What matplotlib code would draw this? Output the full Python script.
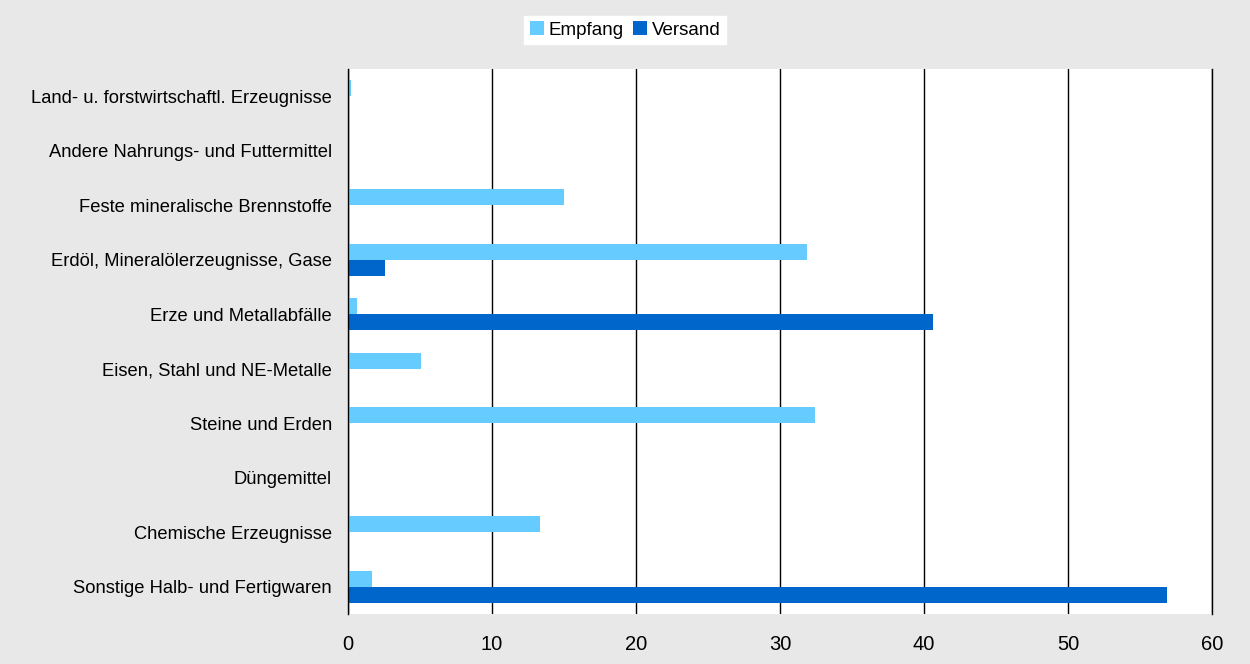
import matplotlib
matplotlib.use("Agg")
import matplotlib.pyplot as plt
import numpy as np

categories = [
    "Land- u. forstwirtschaftl. Erzeugnisse",
    "Andere Nahrungs- und Futtermittel",
    "Feste mineralische Brennstoffe",
    "Erdöl, Mineralölerzeugnisse, Gase",
    "Erze und Metallabfälle",
    "Eisen, Stahl und NE-Metalle",
    "Steine und Erden",
    "Düngemittel",
    "Chemische Erzeugnisse",
    "Sonstige Halb- und Fertigwaren",
]
empfang = [0.2, 0.0, 15.0, 31.9, 0.6, 5.1, 32.4, 0.0, 13.3, 1.7]
versand = [0.0, 0.0, 0.0, 2.6, 40.6, 0.0, 0.0, 0.0, 0.0, 56.9]
xticks = [0, 10, 20, 30, 40, 50, 60]

plt.rcParams['font.family'] = ['Liberation Sans', 'DejaVu Sans']

fig = plt.figure(figsize=(12.5, 6.64), dpi=100, facecolor='#E8E8E8')
ax = fig.add_axes([348/1250, 1-614/664, (1212-348)/1250, (614-69)/664])
ax.set_facecolor('white')

y = np.arange(len(categories))
h = 0.295
ax.barh(y - h/2, empfang, height=h, color='#66CCFF', label='Empfang', zorder=3)
ax.barh(y + h/2, versand, height=h, color='#0066CC', label='Versand', zorder=3)

ax.set_ylim(len(categories) - 0.5, -0.5)
ax.set_xlim(0, 60)
ax.set_xticks(xticks)
ax.set_xticklabels([str(t) for t in xticks], fontsize=14.5)
ax.set_yticks(y)
ax.set_yticklabels(categories, fontsize=13.2)
ax.tick_params(axis='both', length=0)
ax.tick_params(axis='x', pad=15)
ax.tick_params(axis='y', pad=11.5)
ax.grid(axis='x', color='black', linewidth=1, zorder=1)
for s in ['top', 'bottom']:
    ax.spines[s].set_visible(False)
for s in ['left', 'right']:
    ax.spines[s].set_color('black')
    ax.spines[s].set_linewidth(1)
ax.spines['left'].set_zorder(4)

leg = fig.legend(loc='center', bbox_to_anchor=(625/1250, 1-30/664), ncol=2,
                 frameon=True, fancybox=False, edgecolor='white', facecolor='white',
                 framealpha=1, fontsize=13.5, handlelength=0.75, handleheight=0.75,
                 handletextpad=0.25, columnspacing=0.5, borderpad=0.3)

fig.savefig('out.png', dpi=100, facecolor=fig.get_facecolor())
